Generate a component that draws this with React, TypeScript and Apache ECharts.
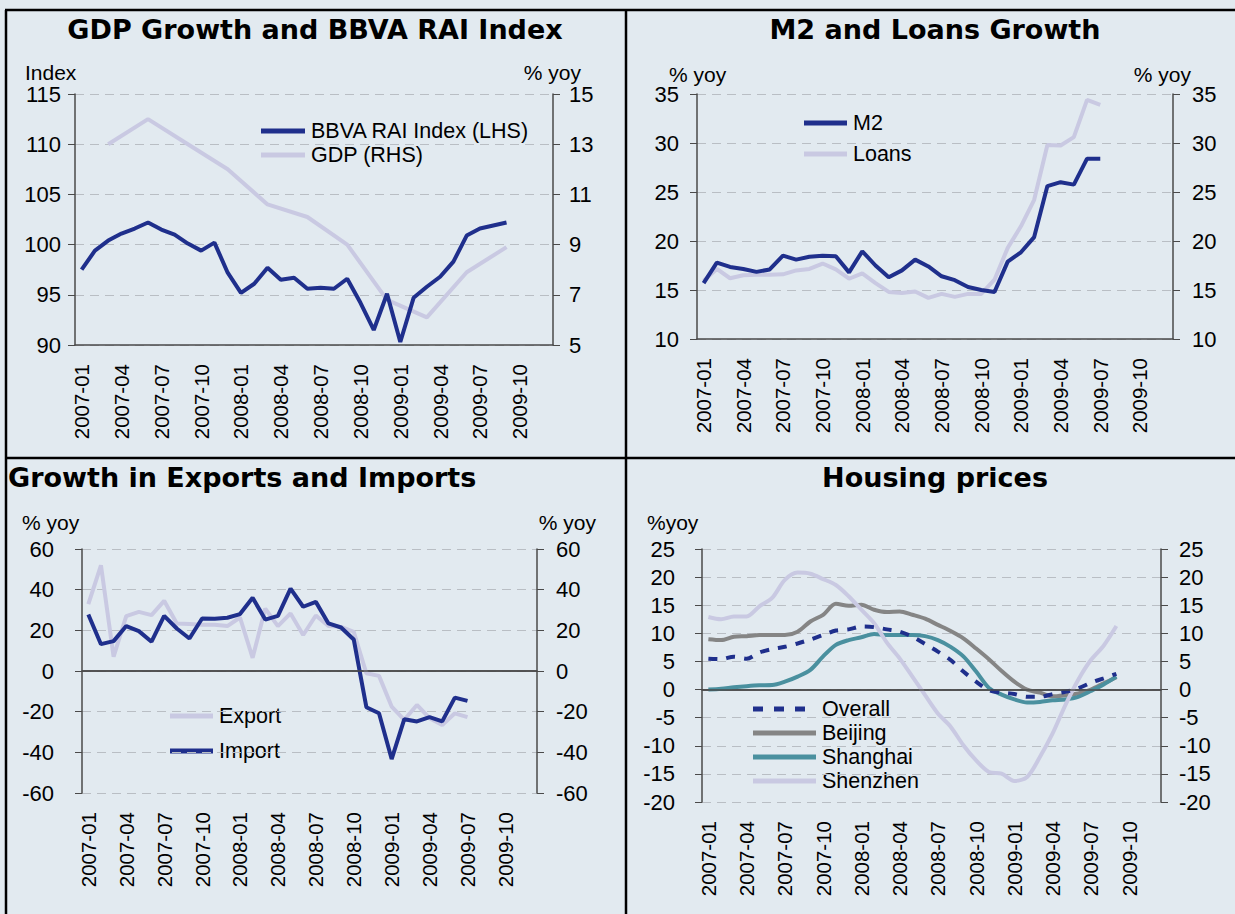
import React, { useEffect, useRef } from "react";
import * as echarts from "echarts";

const months = [
  "2007-01","2007-02","2007-03","2007-04","2007-05","2007-06","2007-07","2007-08","2007-09","2007-10","2007-11","2007-12",
  "2008-01","2008-02","2008-03","2008-04","2008-05","2008-06","2008-07","2008-08","2008-09","2008-10","2008-11","2008-12",
  "2009-01","2009-02","2009-03","2009-04","2009-05","2009-06","2009-07","2009-08","2009-09","2009-10","2009-11","2009-12",
];

// Panel 1: GDP Growth and BBVA RAI Index
const raiIndex = [97.5, 99.4, 100.4, 101.1, 101.6, 102.2, 101.5, 101.0, 100.1, 99.4, 100.2, 97.2,
  95.2, 96.1, 97.7, 96.5, 96.7, 95.6, 95.7, 95.6, 96.6, 94.2, 91.5, 95.1,
  90.3, 94.7, 95.8, 96.8, 98.3, 100.9, 101.6, 101.9, 102.2];
const gdpDates = ["2007-03","2007-06","2007-09","2007-12","2008-03","2008-06","2008-09","2008-12","2009-03","2009-06","2009-09"];
const gdpValues = [13.0, 14.0, 13.0, 12.0, 10.6, 10.1, 9.0, 6.8, 6.1, 7.9, 8.9];
const rhsTicks = [5, 7, 9, 11, 13, 15];

// Panel 2: M2 and Loans Growth
const m2 = [15.7, 17.8, 17.35, 17.15, 16.85, 17.1, 18.5, 18.1, 18.4, 18.5, 18.45, 16.8,
  18.95, 17.5, 16.3, 17.0, 18.1, 17.4, 16.4, 16.0, 15.3, 15.0, 14.8, 17.9,
  18.85, 20.4, 25.6, 26.0, 25.75, 28.4, 28.4];
const loans = [15.95, 17.15, 16.2, 16.5, 16.55, 16.55, 16.6, 17.0, 17.15, 17.7, 17.1, 16.15,
  16.7, 15.7, 14.8, 14.7, 14.85, 14.2, 14.6, 14.3, 14.6, 14.6, 16.05, 19.3,
  21.5, 24.2, 29.8, 29.75, 30.6, 34.4, 33.9];

// Panel 3: Growth in Exports and Imports
const exportsG = [32.9, 52.0, 7.0, 27.0, 29.1, 27.5, 34.5, 23.4, 23.1, 22.7, 22.7, 22.1,
  26.3, 6.5, 30.7, 22.1, 28.3, 17.7, 27.3, 22.1, 21.7, 19.3, -1.1, -2.4,
  -17.5, -24.0, -16.7, -23.2, -26.6, -20.8, -22.7];
const importsG = [27.8, 13.2, 14.7, 22.1, 19.6, 14.4, 27.1, 20.9, 16.0, 25.8, 25.7, 26.2,
  28.0, 36.0, 25.3, 27.1, 40.5, 31.6, 34.0, 23.4, 21.4, 15.5, -17.8, -20.8,
  -43.3, -23.7, -24.8, -22.7, -24.8, -13.1, -14.7];

// Panel 4: Housing prices
const overall = [5.5, 5.4, 5.85, 5.5, 6.6, 7.2, 7.6, 8.2, 8.9, 9.7, 10.5, 10.7,
  11.2, 11.1, 10.7, 10.3, 9.4, 8.1, 6.75, 5.25, 3.2, 1.4, -0.1, -0.55,
  -0.8, -1.3, -1.3, -0.8, -0.4, 0.2, 1.2, 2.0, 2.8];
const beijing = [8.95, 8.8, 9.4, 9.5, 9.7, 9.7, 9.7, 10.3, 12.1, 13.3, 15.25, 14.9,
  15.1, 14.2, 13.8, 13.9, 13.3, 12.6, 11.5, 10.4, 9.1, 7.3, 5.4, 3.3,
  1.4, 0.0, -0.55, -1.2, -1.0, -0.7, 0.0, 1.1, 2.2];
const shanghai = [0.0, 0.15, 0.4, 0.6, 0.75, 0.8, 1.4, 2.3, 3.5, 5.9, 7.95, 8.8,
  9.3, 9.9, 9.7, 9.7, 9.7, 9.5, 8.8, 7.6, 5.9, 3.2, 0.3, -0.9,
  -1.75, -2.3, -2.2, -1.9, -1.75, -1.3, -0.25, 0.9, 2.3];
const shenzhen = [12.9, 12.5, 13.0, 13.0, 14.8, 16.3, 19.5, 20.8, 20.6, 19.65, 18.6, 16.6,
  14.2, 11.8, 8.35, 5.55, 2.3, -1.0, -4.25, -6.6, -9.9, -12.6, -14.65, -14.95,
  -16.25, -15.55, -12.0, -7.8, -2.75, 1.7, 5.25, 7.8, 11.3];

const DARK = "#1f2f8c";
const LAV = "#c9c9e2";
const TEAL = "#4a909f";
const GRAY = "#858585";
const AXIS = "#4a4a4a";
const BG = "#e2eaf0";
const FONT = "Liberation Sans";
const TFONT = "DejaVu Sans";
const FS = 22;

function xAxes(gi: number) {
  return [
    {
      type: "category", gridIndex: gi, data: months, boundaryGap: true,
      axisLine: { lineStyle: { color: AXIS, width: 1.5 } },
      axisTick: { interval: 0, length: 5, lineStyle: { color: AXIS } },
      axisLabel: { interval: 2, rotate: 90, margin: 19, fontSize: 20.5, color: "#000", fontFamily: FONT },
      splitLine: { show: false },
    },
    {
      type: "category", gridIndex: gi, data: months, boundaryGap: true, position: "bottom",
      axisLine: { show: false },
      axisTick: { interval: 2, length: 9, lineStyle: { color: AXIS } },
      axisLabel: { show: false },
      splitLine: { show: false },
    },
  ];
}

function yAxis(gi: number, pos: string, min: number, max: number, interval: number, margin: number, split: boolean) {
  return {
    type: "value", gridIndex: gi, position: pos, min, max, interval,
    axisLine: { show: true, lineStyle: { color: AXIS, width: 1.5 } },
    axisTick: { show: true, length: 7, lineStyle: { color: AXIS } },
    axisLabel: { margin, fontSize: FS, color: "#000", fontFamily: FONT },
    splitLine: { show: split, lineStyle: { color: "#b9bec4", type: [9, 6], width: 1.2 } },
  };
}

function legendItem(x1: number, x2: number, y: number, color: string, label: string, dash?: number[]) {
  return [
    { type: "line", shape: { x1, y1: y, x2, y2: y }, style: { stroke: color, lineWidth: 5, lineDash: dash } },
    { type: "text", x: x2 + 6, y, style: { text: label, fill: "#000", fontSize: 21.5, fontFamily: FONT, verticalAlign: "middle" } },
  ];
}

function txt(text: string, x: number, y: number, align: string, bold?: boolean) {
  return {
    type: "text", x, y,
    style: {
      text, fill: "#000", align, verticalAlign: "middle",
      fontSize: bold ? 27 : 21, fontFamily: bold ? TFONT : FONT, fontWeight: bold ? "bold" : "normal",
    },
  };
}

function border(x1: number, y1: number, x2: number, y2: number) {
  return { type: "line", shape: { x1, y1, x2, y2 }, style: { stroke: "#000", lineWidth: 2.5 }, z: 100 };
}

export default function App() {
  const ref = useRef<HTMLDivElement>(null);
  useEffect(() => {
    if (!ref.current) return;
    const chart = echarts.init(ref.current, undefined, { renderer: "svg" });
    const zeroLine = {
      silent: true, symbol: "none", label: { show: false },
      lineStyle: { color: AXIS, width: 1.5, type: "solid" }, data: [{ yAxis: 0 }],
    };
    const line = (name: string, data: any, x: number, y: number, color: string, extra: any = {}) => ({
      name, type: "line", xAxisIndex: x, yAxisIndex: y, data, symbol: "none",
      lineStyle: { color, width: 4 }, itemStyle: { color }, ...extra,
    });
    const option: any = {
      animation: false,
      backgroundColor: BG,
      grid: [
        { left: 75, top: 94, width: 478, height: 251 },
        { left: 697, top: 94, width: 476, height: 245 },
        { left: 82, top: 549, width: 455, height: 244 },
        { left: 702, top: 549, width: 459, height: 253 },
      ],
      xAxis: [...xAxes(0), ...xAxes(1), ...xAxes(2), ...xAxes(3)],
      yAxis: [
        yAxis(0, "left", 90, 115, 5, 14, true),
        {
          ...yAxis(0, "right", 5, 15, 2, 16, false),
          interval: undefined,
          axisLabel: { margin: 16, fontSize: FS, color: "#000", fontFamily: FONT, customValues: rhsTicks },
          axisTick: { show: true, length: 7, lineStyle: { color: AXIS }, customValues: rhsTicks },
        },
        yAxis(1, "left", 10, 35, 5, 18, true),
        yAxis(1, "right", 10, 35, 5, 19, false),
        yAxis(2, "left", -60, 60, 20, 28, true),
        yAxis(2, "right", -60, 60, 20, 19, false),
        yAxis(3, "left", -20, 25, 5, 27, true),
        yAxis(3, "right", -20, 25, 5, 18, false),
      ],
      series: [
        line("GDP (RHS)", gdpDates.map((d, i) => [d, gdpValues[i]]), 0, 1, LAV, { connectNulls: true }),
        line("BBVA RAI Index (LHS)", raiIndex, 0, 0, DARK),
        line("Loans", loans, 2, 2, LAV),
        line("M2", m2, 2, 2, DARK),
        line("Export", exportsG, 4, 4, LAV, { markLine: zeroLine }),
        line("Import", importsG, 4, 4, DARK),
        line("Beijing", beijing, 6, 6, GRAY, { smooth: 0.3, markLine: zeroLine }),
        line("Shanghai", shanghai, 6, 6, TEAL, { smooth: 0.3 }),
        line("Shenzhen", shenzhen, 6, 6, LAV, { smooth: 0.3 }),
        line("Overall", overall, 6, 6, DARK, { smooth: 0.3, lineStyle: { color: DARK, width: 4, type: [9, 9] } }),
      ],
      graphic: [
        border(5, 10, 1235, 10),
        border(6, 10, 6, 914),
        border(626, 10, 626, 914),
        border(5, 458, 1235, 458),
        txt("GDP Growth and BBVA RAI Index", 315, 29, "center", true),
        txt("M2 and Loans Growth", 935, 29, "center", true),
        txt("Growth in Exports and Imports", 8, 477, "left", true),
        txt("Housing prices", 935, 477, "center", true),
        txt("Index", 25, 72, "left"),
        txt("% yoy", 581, 72, "right"),
        txt("% yoy", 669, 74, "left"),
        txt("% yoy", 1191, 74, "right"),
        txt("% yoy", 22, 522, "left"),
        txt("% yoy", 596, 522, "right"),
        txt("%yoy", 647, 522, "left"),
        ...legendItem(261, 305, 131, DARK, "BBVA RAI Index (LHS)"),
        ...legendItem(261, 305, 155, LAV, "GDP (RHS)"),
        ...legendItem(804, 847, 123, DARK, "M2"),
        ...legendItem(804, 847, 154, LAV, "Loans"),
        ...legendItem(170, 213, 716, LAV, "Export"),
        ...legendItem(170, 213, 751, DARK, "Import"),
        ...legendItem(753, 816, 709, DARK, "Overall", [10, 11]),
        ...legendItem(753, 816, 733, GRAY, "Beijing"),
        ...legendItem(753, 816, 757, TEAL, "Shanghai"),
        ...legendItem(753, 816, 781, LAV, "Shenzhen"),
      ],
    };
    chart.setOption(option);
    return () => chart.dispose();
  }, []);
  return (
    <div
      ref={ref}
      style={{ position: "fixed", left: 0, top: 0, width: 1235, height: 914 }}
    />
  );
}
